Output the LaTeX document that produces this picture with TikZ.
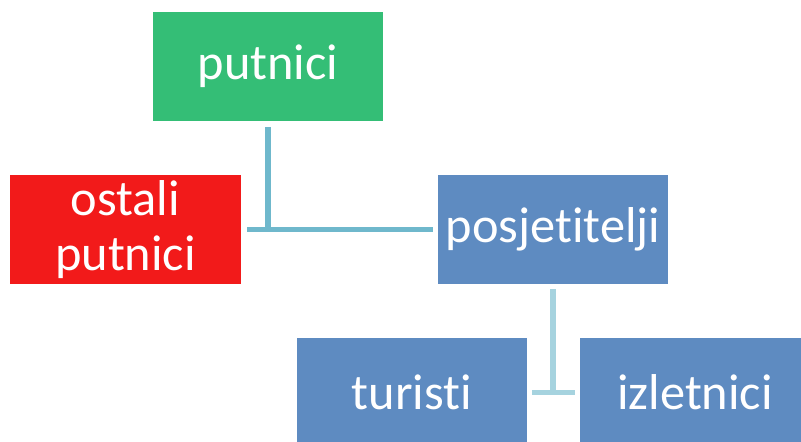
\documentclass[tikz,border=0pt]{standalone}
\usepackage{fontspec}
\setmainfont[Ligatures=NoCommon]{Carlito}
\usepackage{tikz}
\usetikzlibrary{positioning}

\definecolor{boxgreen}{RGB}{52,190,118}
\definecolor{boxred}{RGB}{242,26,26}
\definecolor{boxblue}{RGB}{94,139,193}
\definecolor{linkdark}{RGB}{111,184,204}
\definecolor{linklight}{RGB}{166,211,223}

\begin{document}
\begin{tikzpicture}[x=0.03cm, y=-0.03cm,
                    GREEN/.style={rectangle, fill=boxgreen, text=white, minimum width=6.9cm, minimum height=3.27cm, align=center, font=\fontsize{43}{47}\selectfont},
                    RED/.style={rectangle, fill=boxred, text=white, minimum width=6.93cm, minimum height=3.27cm, align=center, font=\fontsize{43}{47}\selectfont},
                    BLUE/.style={rectangle, fill=boxblue, text=white, minimum width=6.9cm, minimum height=3.27cm, align=center, font=\fontsize{43}{47}\selectfont},
                    LINK/.style={line width=4.3pt},
                ]
                \clip (0,0) rectangle (801,442);

                \node[GREEN]  (Putnici)       at (268,66.5)    {putnici};
                \node[RED]    (Ostali)        at (125.5,229.5) {ostali\\putnici};
                \node[BLUE]   (Posjetitelji)  at (553,229.5)   {posjetitelji};
                \node[BLUE]   (Turisti)       at (412,392.5)   {turisti};
                \node[BLUE]   (Izletnici)     at (695,392.5)   {izletnici};

                % putnici -> ostali / posjetitelji
                \draw[LINK, linkdark, shorten <=0.18cm, shorten >=-0.06cm] (Putnici.south) -- (Putnici.south |- Ostali.east);
                \draw[LINK, linkdark, shorten <=0.18cm, shorten >=0.15cm] (Ostali.east) -- (Posjetitelji.west);

                % posjetitelji -> turisti / izletnici
                \draw[LINK, linklight, shorten <=0.15cm, shorten >=-0.06cm] (Posjetitelji.south) -- (Posjetitelji.south |- Turisti.east);
                \draw[LINK, linklight, shorten <=0.15cm, shorten >=0.15cm] (Turisti.east) -- (Izletnici.west);

            \end{tikzpicture}
\end{document}
